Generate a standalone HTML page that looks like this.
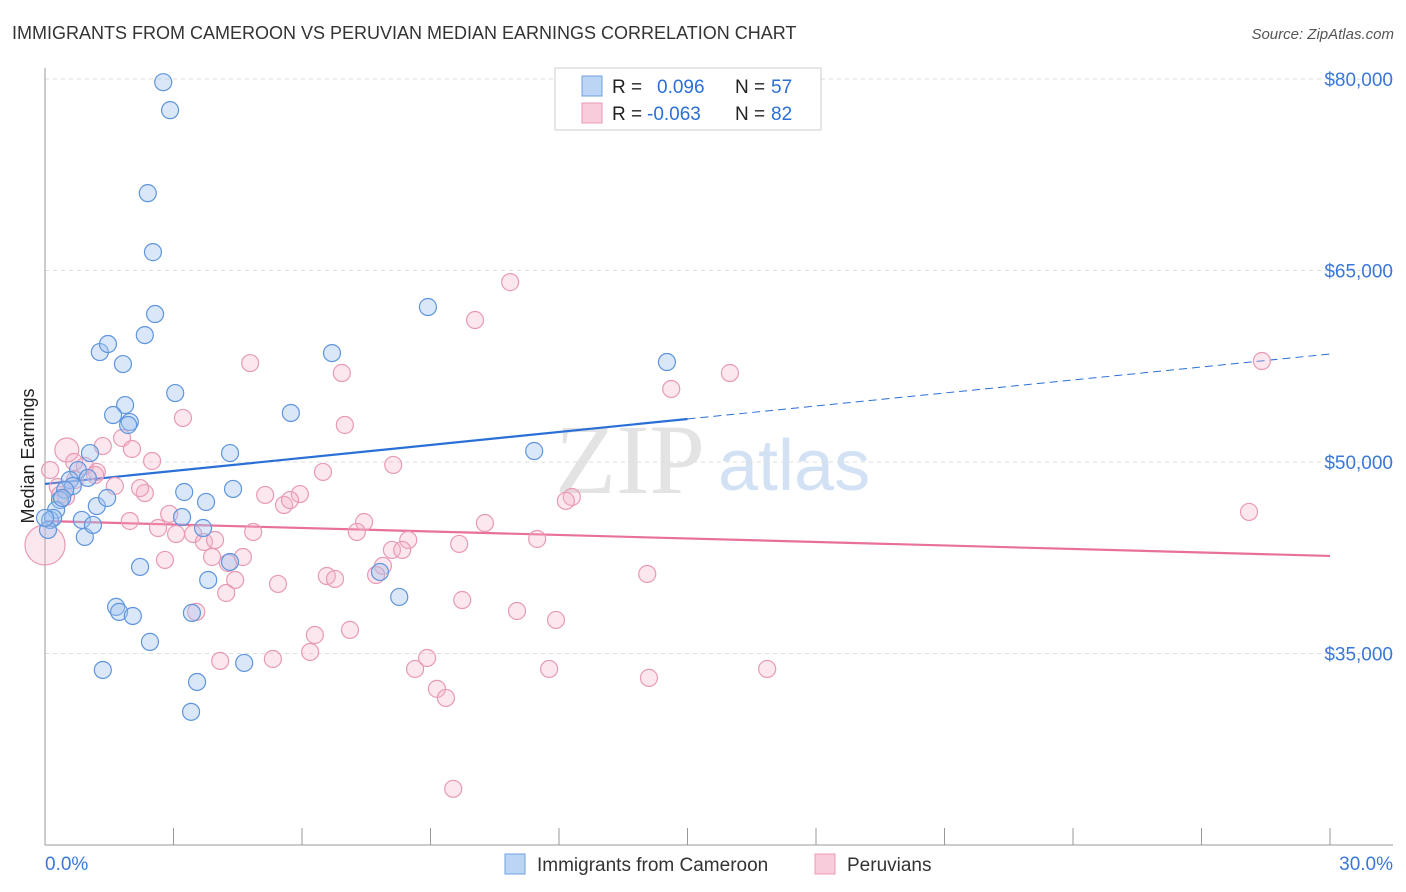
<!DOCTYPE html>
<html><head><meta charset="utf-8"><style>
body{margin:0;background:#fff;font-family:"Liberation Sans",sans-serif;}
svg{display:block}
</style></head><body>
<svg id="chart" width="1406" height="892" xmlns="http://www.w3.org/2000/svg" font-family="Liberation Sans, sans-serif">
<text x="12" y="39" font-size="18" fill="#333">IMMIGRANTS FROM CAMEROON VS PERUVIAN MEDIAN EARNINGS CORRELATION CHART</text>
<text x="1394" y="39" font-size="15" fill="#555" font-style="italic" text-anchor="end">Source: ZipAtlas.com</text>
<text transform="translate(34,456) rotate(-90)" font-size="18" fill="#222" text-anchor="middle">Median Earnings</text>
<g>
<text x="555" y="493" font-size="100" fill="#ddd" font-family="Liberation Serif, serif" opacity="0.8">ZIP</text>
<text x="718" y="490" font-size="72" fill="#c8dcf2" opacity="0.8">atlas</text>
</g>
<g id="grid"></g><g id="axes"></g><g id="lines"></g><g id="points"></g>
<g>
<rect x="555" y="68" width="266" height="62" fill="#fff" stroke="#ccc"/>
<rect x="582" y="76" width="20" height="20" fill="#bcd5f5" stroke="#6fa0e0"/>
<rect x="582" y="103" width="20" height="20" fill="#f9ccdb" stroke="#e89ab5"/>
<text x="612" y="93" font-size="19" fill="#222">R =</text><text x="657" y="93" font-size="19" fill="#2a6fd6">0.096</text>
<text x="735" y="93" font-size="19" fill="#222">N =</text><text x="771" y="93" font-size="19" fill="#2a6fd6">57</text>
<text x="612" y="120" font-size="19" fill="#222">R =</text><text x="647" y="120" font-size="19" fill="#2a6fd6">-0.063</text>
<text x="735" y="120" font-size="19" fill="#222">N =</text><text x="771" y="120" font-size="19" fill="#2a6fd6">82</text>
</g>
<g>
<rect x="505" y="854" width="20" height="20" fill="#bcd5f5" stroke="#6fa0e0"/>
<text x="537" y="871" font-size="19" fill="#333">Immigrants from Cameroon</text>
<rect x="815" y="854" width="20" height="20" fill="#f9ccdb" stroke="#e89ab5"/>
<text x="847" y="871" font-size="19" fill="#333">Peruvians</text>
</g>
</svg>
<script>
const yTicks=[35000,50000,65000,80000];
const yTickLabels=["$35,000","$50,000","$65,000","$80,000"];
const xLabels=["0.0%","30.0%"];
const blueX=[2.76,2.92,2.40,2.52,2.57,2.33,1.28,1.47,1.82,3.04,1.87,1.59,1.98,1.94,5.74,6.70,8.94,14.52,11.42,4.32,1.05,0.77,0.58,0.65,0.47,0.35,0.26,0.12,0.19,0.86,0.93,1.12,1.21,1.45,3.25,3.76,4.39,3.20,3.69,2.22,3.81,4.32,1.66,1.73,2.05,2.45,1.35,3.55,3.41,4.65,3.43,7.82,8.27,0.07,1.00,0.40,0.00];
const blueY=[79750,77560,71060,66440,61590,59940,58610,59240,57670,55400,54460,53680,53130,52900,53840,58530,62140,57830,50860,50700,50700,49370,48590,48120,47810,47020,46240,45460,45620,45460,44130,45070,46550,47180,47650,46870,47890,45690,44830,41780,40760,42170,38650,38260,37940,35910,33710,32770,30430,34260,38180,41390,39430,44680,48750,47180,45620];
const pinkX=[10.86,10.04,4.79,6.93,14.62,15.99,28.41,3.22,7.00,1.80,2.03,1.35,0.51,0.68,0.93,1.21,2.50,8.13,6.49,1.63,2.33,5.14,5.95,5.58,12.30,12.16,10.27,28.11,0.12,0.30,0.49,1.98,2.64,2.90,3.06,3.46,3.71,3.90,4.86,7.45,7.28,8.48,8.10,8.34,9.67,11.49,2.80,4.27,4.62,4.44,4.23,5.44,6.58,6.77,7.89,7.73,9.74,11.02,11.93,3.53,6.30,7.12,6.19,4.09,5.32,8.64,8.92,11.77,14.10,16.86,9.15,9.36,9.53,14.06,0.00,0.35,0.70,2.22,3.97,5.72,1.17];
const pinkY=[64090,61120,57750,56970,55720,56970,57910,53450,52900,51880,51020,51250,50940,50000,49690,49220,50080,49770,49220,48120,47570,47420,47490,46630,47260,46950,45220,46090,49370,48040,47260,45380,44830,45930,44360,44360,43740,42560,44520,45300,44520,43890,43110,43110,43580,43970,42330,42090,42560,40760,39740,40450,41070,40840,41860,41150,39190,38330,37630,38260,36450,36850,35120,34420,34570,33790,34650,33790,33090,33790,32230,31520,24400,41230,43500,47420,48590,47960,43890,47020,48980];
const blueTrend=[48280,58460];
const pinkTrend=[45380,42640];
const NS="http://www.w3.org/2000/svg";
const sx=p=>45+p*(1330-45)/30;
const sy=v=>462-(v-50000)*191.5/15000;
function mk(tag,attrs,parent){const e=document.createElementNS(NS,tag);for(const k in attrs)e.setAttribute(k,attrs[k]);parent.appendChild(e);return e;}
const grid=document.getElementById('grid'),axes=document.getElementById('axes'),lines=document.getElementById('lines'),pts=document.getElementById('points');
yTicks.forEach((t,i)=>{
 const l=mk('line',{x1:45,x2:1393,y1:sy(t),y2:sy(t),stroke:'#ddd','stroke-dasharray':'4,4'},grid);
 
 
 const tx=mk('text',{x:1393,y:sy(t)+7,'font-size':19,fill:'#3a78d8','text-anchor':'end'},axes);
 tx.textContent=yTickLabels[i];
 
 
});
const ax=mk('line',{x1:45,x2:45,y1:68,y2:845,stroke:'#999'},axes);


const bx=mk('line',{x1:45,x2:1393,y1:845,y2:845,stroke:'#999'},axes);


for(let i=0;i<=10;i++){
 const t=mk('line',{x1:sx(i*3),x2:sx(i*3),y1:828,y2:845,stroke:'#999'},axes);
 
 
}
[[0,'start',45],[30,'end',1393]].forEach((d,i)=>{
 const t=mk('text',{x:d[2],y:870,'font-size':19,fill:'#3a78d8','text-anchor':d[1]},axes);
 t.textContent=xLabels[i];
 
 
});
function at(tr,p){return tr[0]+(tr[1]-tr[0])*p/30;}
const b1=mk('line',{x1:sx(0),y1:sy(at(blueTrend,0)),x2:sx(15),y2:sy(at(blueTrend,15)),stroke:'#2a6fd6','stroke-width':2.2},lines);


const b2=mk('line',{x1:sx(15),y1:sy(at(blueTrend,15)),x2:sx(30),y2:sy(at(blueTrend,30)),stroke:'#2a6fd6','stroke-width':1,'stroke-dasharray':'8,5'},lines);


const p1=mk('line',{x1:sx(0),y1:sy(pinkTrend[0]),x2:sx(30),y2:sy(pinkTrend[1]),stroke:'#e8709a','stroke-width':2.2},lines);


pinkX.forEach((x,i)=>{
 const big=(x===0&&pinkY[i]===43500)?20:((x===0.51&&pinkY[i]===50940)?12:8.5);
 const c=mk('circle',{cx:sx(x),cy:sy(pinkY[i]),r:big,fill:'rgba(245,175,200,0.3)',stroke:'#e89ab5','stroke-width':1.2},pts);
 
 
});
blueX.forEach((x,i)=>{
 const c=mk('circle',{cx:sx(x),cy:sy(blueY[i]),r:8.5,fill:'rgba(160,196,240,0.4)',stroke:'#5f95dc','stroke-width':1.2},pts);
 
 
});
</script>
</body></html>
